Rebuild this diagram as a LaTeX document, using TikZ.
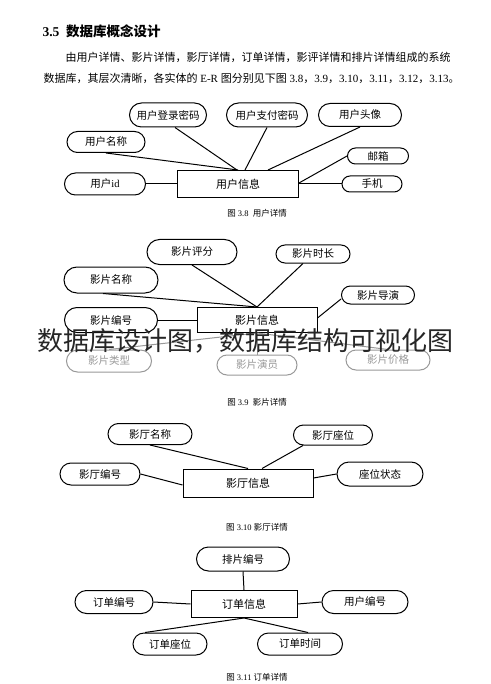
\documentclass[tikz,border=0pt]{standalone}
\usepackage{fontspec}
\setmainfont{Liberation Serif}
\newfontfamily\cjk{Noto Sans CJK SC}
\newcommand{\zh}[1]{{\cjk #1}}
\usetikzlibrary{shapes.misc}

\tikzset{
  attr/.style={draw, rounded rectangle, line width=1pt, inner sep=0pt,
    font=\cjk\fontsize{10.5}{12}\selectfont},
  fadedattr/.style={attr, draw=black!40, text=black!40},
  ent/.style={draw, rectangle, line width=1pt, inner sep=0pt,
    font=\cjk\fontsize{11}{13}\selectfont},
  link/.style={line width=1pt},
  fadedlink/.style={line width=1pt, black!40},
  figcap/.style={font=\fontsize{8.5}{10}\selectfont},
}

\begin{document}
\begin{tikzpicture}[x=1pt, y=-1pt]
    \useasboundingbox[fill=white] (0,0) rectangle (490,684);

    % Heading and text
    \node[anchor=west, font=\bfseries\fontsize{13.5}{15}\selectfont] (head) at (39,31) {3.5\ \ \zh{数据库概念设计}};
    \node[anchor=west, font=\fontsize{11}{13}\selectfont] (para1) at (62,57)
        {\zh{由用户详情、影片详情，影厅详情，订单详情，影评详情和排片详情组成的系统}};
    \node[anchor=west, font=\fontsize{11}{13}\selectfont] (para2) at (40,78)
        {\zh{数据库，其层次清晰，各实体的} E-R \zh{图分别见下图} 3.8\zh{，}3.9\zh{，}3.10\zh{，}3.11\zh{，}3.12\zh{，}3.13\zh{。}};

    % Fig 3.8 user
    \node[ent, minimum width=121pt, minimum height=27pt] (uinfo) at (238,184) {用户信息};
    \node[attr, minimum width=77pt, minimum height=24pt] (ulogin) at (168,115) {用户登录密码};
    \node[attr, minimum width=81pt, minimum height=24pt] (upay) at (267,115) {用户支付密码};
    \node[attr, minimum width=83pt, minimum height=23pt] (uavatar) at (360,115) {用户头像};
    \node[attr, minimum width=78pt, minimum height=21pt] (uname) at (106,142) {用户名称};
    \node[attr, minimum width=61pt, minimum height=16pt] (umail) at (378,156) {邮箱};
    \node[attr, minimum width=81pt, minimum height=22pt] (uid) at (105,184) {用户{\rmfamily id}};
    \node[attr, minimum width=60pt, minimum height=16pt] (uphone) at (372,184) {手机};
    \draw[link] (uname.south) -- (uinfo.north);
    \draw[link] ([xshift=7pt]ulogin.south) -- ([xshift=-1pt]uinfo.north);
    \draw[link] (upay.south) -- ([xshift=7pt]uinfo.north);
    \draw[link] (uavatar.south) -- ([xshift=30pt]uinfo.north);
    \draw[link] (umail.west) -- ([yshift=1pt]uinfo.east);
    \draw[link] (uphone.west) -- (uinfo.east);
    \draw[link] (uid.east) -- (uinfo.west);
    \node[figcap] (cap8) at (257,213) {\zh{图} 3.8\ \ \zh{用户详情}};

    % Fig 3.9 film
    \node[ent, minimum width=120pt, minimum height=25pt] (finfo) at (257,320) {影片信息};
    \node[attr, minimum width=90pt, minimum height=25pt] (fscore) at (192,252) {影片评分};
    \node[attr, minimum width=74pt, minimum height=18pt] (flen) at (313,254) {影片时长};
    \node[attr, minimum width=94pt, minimum height=26pt] (fname) at (111,280) {影片名称};
    \node[attr, minimum width=73pt, minimum height=18pt] (fdir) at (378,295) {影片导演};
    \node[attr, minimum width=93pt, minimum height=25pt] (fno) at (111,320) {影片编号};
    \node[fadedattr, minimum width=85pt, minimum height=22pt] (ftype) at (109,361) {影片类型};
    \node[fadedattr, minimum width=80pt, minimum height=20pt] (factor) at (257,365) {影片演员};
    \node[fadedattr, minimum width=84pt, minimum height=20pt] (fprice) at (388,360) {影片价格};
    \draw[link] (fscore.south) -- (finfo.north);
    \draw[link] ([xshift=-10pt]flen.south) -- (finfo.north);
    \draw[link] ([xshift=-8pt]fname.south) -- (finfo.north);
    \draw[link] ([yshift=-4pt]fdir.west) -- ([yshift=2pt]finfo.east);
    \draw[link] (fno.east) -- (finfo.west);
    \draw[fadedlink] (finfo.south) -- (ftype.north);
    \draw[fadedlink] (finfo.south) -- (factor.north);
    \draw[fadedlink] (finfo.south) -- (fprice.north);
    \node[figcap] (cap9) at (257,402) {\zh{图} 3.9\ \ \zh{影片详情}};

    % Fig 3.10 hall
    \node[ent, minimum width=130pt, minimum height=28pt] (hinfo) at (248,483) {影厅信息};
    \node[attr, minimum width=84pt, minimum height=21pt] (hname) at (150,434) {影厅名称};
    \node[attr, minimum width=79pt, minimum height=20pt] (hseat) at (333,435) {影厅座位};
    \node[attr, minimum width=80pt, minimum height=22pt] (hno) at (100,474) {影厅编号};
    \node[attr, minimum width=86pt, minimum height=24pt] (hstate) at (380,474) {座位状态};
    \draw[link] (hname.south) -- (hinfo.north);
    \draw[link] ([xshift=-30pt]hseat.south) -- ([xshift=14pt]hinfo.north);
    \draw[link] (hno.east) -- ([yshift=-2pt]hinfo.west);
    \draw[link] (hstate.west) -- ([yshift=5pt]hinfo.east);
    \node[figcap] (cap10) at (257,527) {\zh{图} 3.10\ \zh{影厅详情}};

    % Fig 3.11 order
    \node[ent, minimum width=106pt, minimum height=27pt] (oinfo) at (244,604) {订单信息};
    \node[attr, minimum width=93pt, minimum height=24pt] (bno) at (243,559) {排片编号};
    \node[attr, minimum width=78pt, minimum height=23pt] (ono) at (114,602) {订单编号};
    \node[attr, minimum width=86pt, minimum height=23pt] (uno) at (365,602) {用户编号};
    \node[attr, minimum width=74pt, minimum height=22pt] (oseat) at (170,644) {订单座位};
    \node[attr, minimum width=85pt, minimum height=22pt] (otime) at (300,644) {订单时间};
    \draw[link] (bno.south) -- (oinfo.north);
    \draw[link] (ono.east) -- (oinfo.west);
    \draw[link] (oinfo.east) -- (uno.west);
    \draw[link] (oinfo.south) -- ([xshift=-25pt]oseat.north);
    \draw[link] (oinfo.south) -- ([xshift=8pt]otime.north);
    \node[figcap] (cap11) at (257,677) {\zh{图} 3.11\ \zh{订单详情}};

    % Overlay text
    \node[font=\cjk\fontsize{26}{30}\selectfont, text=black!85] (mark) at (245,341) {数据库设计图，数据库结构可视化图};
\end{tikzpicture}
\end{document}
